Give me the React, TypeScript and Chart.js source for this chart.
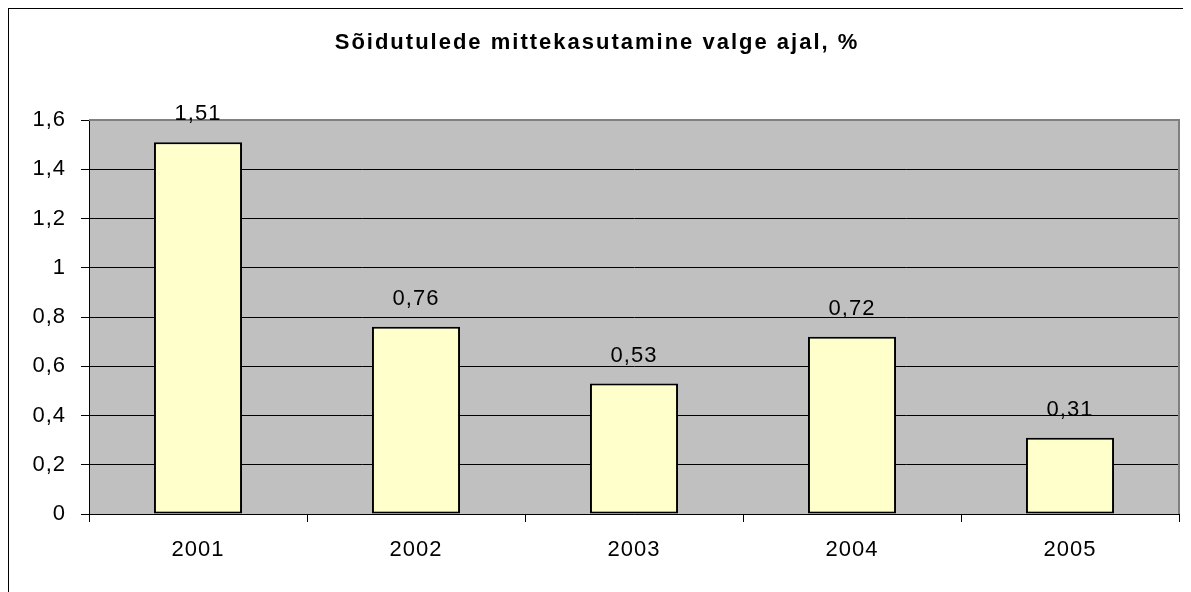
import React, { useEffect, useRef } from "react";
import { Chart, registerables } from "chart.js";

Chart.register(...registerables);

const TITLE = "Sõidutulede mittekasutamine valge ajal, %";
const CATEGORIES = ["2001", "2002", "2003", "2004", "2005"];
const VALUES = [1.51, 0.76, 0.53, 0.72, 0.31];
const Y_MIN = 0;
const Y_MAX = 1.6;
const Y_STEP = 0.2;

const FONT = "'Liberation Sans', Arial, sans-serif";

const fmt = (v: number, digits: number) =>
  v.toFixed(digits).replace(".", ",");

export default function App() {
  const ref = useRef<HTMLCanvasElement | null>(null);

  useEffect(() => {
    document.documentElement.style.overflow = "hidden";
    document.body.style.overflow = "hidden";
    const canvas = ref.current;
    if (!canvas) return;

    const spacing = (chart: any) => {
      (chart.ctx as any).letterSpacing = "1px";
    };

    const bgPlugin = {
      id: "plotBg",
      beforeUpdate: spacing,
      beforeLayout: spacing,
      beforeDraw(chart: any) {
        spacing(chart);
        const { ctx, chartArea: a } = chart;
        ctx.save();
        ctx.fillStyle = "#C0C0C0";
        ctx.fillRect(a.left, a.top, a.right - a.left, a.bottom - a.top);
        ctx.restore();
      },
      afterDraw(chart: any) {
        const { ctx, chartArea: a } = chart;
        ctx.save();
        ctx.strokeStyle = "#808080";
        ctx.lineWidth = 2;
        ctx.beginPath();
        ctx.moveTo(a.left, a.top);
        ctx.lineTo(a.right, a.top);
        ctx.lineTo(a.right, a.bottom);
        ctx.stroke();
        // title
        ctx.fillStyle = "#000";
        ctx.letterSpacing = "2px";
        ctx.font = `bold 22px ${FONT}`;
        ctx.textAlign = "center";
        ctx.textBaseline = "middle";
        ctx.fillText(TITLE, 588, 34);
        // value labels
        ctx.letterSpacing = "1px";
        ctx.font = `22px ${FONT}`;
        const meta = chart.getDatasetMeta(0);
        meta.data.forEach((el: any, i: number) => {
          ctx.fillText(fmt(VALUES[i], 2), el.x, el.y - 28);
        });
        ctx.restore();
      },
    };

    const chart = new Chart(canvas, {
      type: "bar",
      data: {
        labels: CATEGORIES,
        datasets: [
          {
            data: VALUES,
            backgroundColor: "#FFFFCC",
            borderColor: "#000000",
            borderWidth: 2,
            borderSkipped: false,
            barPercentage: 0.404,
            categoryPercentage: 1,
          },
        ],
      },
      options: {
        responsive: false,
        animation: false,
        layout: { padding: { top: 111, right: 12, left: 0, bottom: 0 } },
        plugins: {
          legend: { display: false },
          tooltip: { enabled: false },
          title: { display: false },
        },
        scales: {
          x: {
            offset: true,
            grid: {
              offset: true,
              drawOnChartArea: false,
              drawTicks: true,
              tickLength: 8,
              tickColor: "#000",
            },
            border: { color: "#000", width: 1 },
            ticks: {
              color: "#000",
              font: { family: FONT, size: 22 },
              padding: 15,
            },
            afterFit(s: any) {
              s.height = 78;
            },
          },
          y: {
            min: Y_MIN,
            max: Y_MAX,
            grid: {
              color: (c: any) =>
                c.tick && Math.abs(c.tick.value - Y_MAX) < 1e-6
                  ? "rgba(0,0,0,0)"
                  : "#000",
              lineWidth: 1,
              drawTicks: true,
              tickLength: 8,
              tickColor: "#000",
            },
            border: { color: "#000", width: 1 },
            ticks: {
              stepSize: Y_STEP,
              color: "#000",
              font: { family: FONT, size: 22 },
              padding: 15,
              callback: (v: any) => {
                const n = Number(Number(v).toFixed(1));
                return String(n).replace(".", ",");
              },
            },
            afterFit(s: any) {
              s.width = 80;
            },
          },
        },
      },
      plugins: [bgPlugin],
    } as any);

    return () => chart.destroy();
  }, []);

  return (
    <div
      style={{
        borderTop: "1px solid #000",
        borderLeft: "1px solid #000",
        width: 1183,
        height: 584,
        boxSizing: "border-box",
      }}
    >
      <canvas
        ref={ref}
        width={1182}
        height={583}
        style={{ display: "block", width: 1182, height: 583 }}
      />
    </div>
  );
}
